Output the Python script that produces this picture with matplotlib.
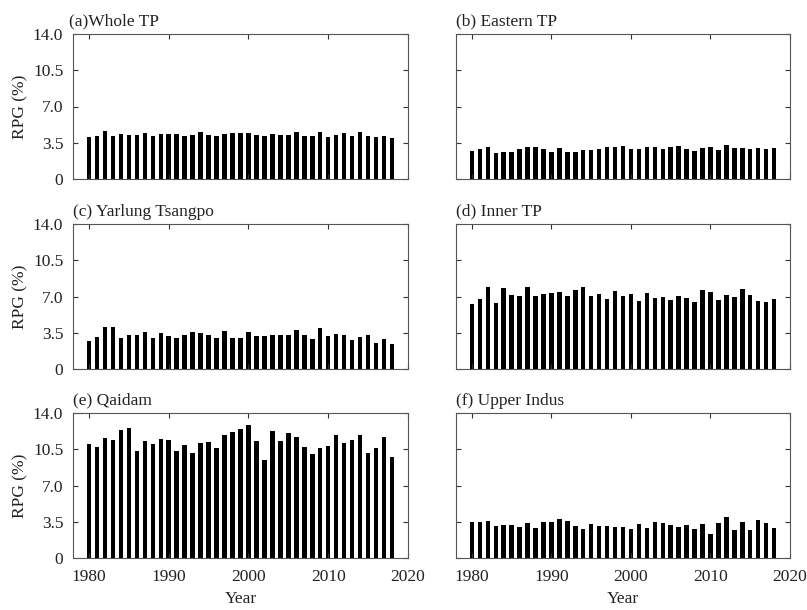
import matplotlib
matplotlib.use("Agg")
import matplotlib.pyplot as plt
import numpy as np

plt.rcParams["font.family"] = ["Liberation Serif", "DejaVu Serif"]
plt.rcParams["font.size"] = 12.5

years = np.arange(1980, 2019)

whole_tp = [4.05, 4.14, 4.60, 4.11, 4.37, 4.27, 4.24, 4.43, 4.20, 4.30,
            4.34, 4.37, 4.14, 4.27, 4.50, 4.24, 4.20, 4.34, 4.40, 4.40,
            4.43, 4.27, 4.20, 4.30, 4.27, 4.27, 4.50, 4.20, 4.14, 4.50,
            4.08, 4.27, 4.43, 4.20, 4.53, 4.14, 4.08, 4.14, 3.95]
eastern_tp = [2.72, 2.91, 3.10, 2.52, 2.56, 2.56, 2.88, 3.10, 3.10, 2.88,
              2.62, 3.00, 2.56, 2.59, 2.82, 2.78, 2.85, 3.10, 3.10, 3.20,
              2.85, 2.88, 3.10, 3.07, 2.91, 3.10, 3.20, 2.85, 2.72, 3.00,
              3.10, 2.82, 3.33, 2.98, 2.95, 2.88, 2.95, 2.91, 3.00]
yarlung = [2.75, 3.11, 4.05, 4.08, 3.04, 3.24, 3.24, 3.53, 2.98, 3.43,
           3.14, 3.01, 3.24, 3.59, 3.46, 3.33, 3.04, 3.69, 3.04, 3.04,
           3.59, 3.14, 3.14, 3.24, 3.24, 3.33, 3.79, 3.33, 2.91, 3.95,
           3.17, 3.37, 3.27, 2.82, 3.07, 3.24, 2.49, 2.91, 2.43]
inner_tp = [6.31, 6.73, 7.90, 6.34, 7.80, 7.12, 7.09, 7.93, 7.09, 7.25,
            7.38, 7.48, 7.02, 7.64, 7.96, 7.06, 7.28, 6.80, 7.54, 7.06,
            7.28, 6.60, 7.31, 6.83, 6.96, 6.70, 7.06, 6.86, 6.50, 7.64,
            7.48, 6.67, 7.15, 6.96, 7.70, 7.15, 6.54, 6.50, 6.73]
qaidam = [11.00, 10.74, 11.59, 11.42, 12.33, 12.52, 10.32, 11.26, 10.97, 11.49,
          11.39, 10.29, 10.87, 10.16, 11.13, 11.20, 10.61, 11.84, 12.20, 12.46,
          12.82, 11.33, 9.42, 12.23, 11.26, 12.07, 11.65, 10.74, 10.06, 10.58,
          10.78, 11.84, 11.13, 11.39, 11.84, 10.16, 10.61, 11.65, 9.77]
upper_indus = [3.50, 3.50, 3.59, 3.07, 3.20, 3.17, 2.98, 3.37, 2.94, 3.43,
               3.43, 3.75, 3.53, 3.07, 2.82, 3.24, 3.11, 3.11, 3.04, 3.04,
               2.82, 3.33, 2.88, 3.43, 3.40, 3.20, 2.98, 3.17, 2.78, 3.30,
               2.36, 3.40, 3.92, 2.75, 3.43, 2.75, 3.69, 3.37, 2.91]

series = [whole_tp, eastern_tp, yarlung, inner_tp, qaidam, upper_indus]
titles = ["(a)Whole TP", "(b) Eastern TP", "(c) Yarlung Tsangpo",
          "(d) Inner TP", "(e) Qaidam", "(f) Upper Indus"]
yticks = [0, 3.5, 7.0, 10.5, 14.0]
ytick_labels = ["0", "3.5", "7.0", "10.5", "14.0"]
xticks = [1980, 1990, 2000, 2010, 2020]

W, H = 807, 610
fig = plt.figure(figsize=(W / 100, H / 100), dpi=100)

col_x = [(73, 335), (456, 334)]
row_y = [(34, 179), (224, 369), (413, 558)]
axis_color = "#333333"

for i, (vals, title) in enumerate(zip(series, titles)):
    r, c = divmod(i, 2)
    x0, w = col_x[c]
    top, bottom = row_y[r]
    ax = fig.add_axes([x0 / W, 1 - bottom / H, w / W, (bottom - top) / H])
    ax.bar(years, vals, width=0.56, color="black")
    ax.set_xlim(1978, 2020)
    ax.set_ylim(0, 14)
    ax.set_xticks(xticks)
    ax.set_yticks(yticks)
    ax.tick_params(direction="in", top=True, right=True, length=3.5,
                   width=0.8, colors=axis_color, labelcolor="#222222",
                   labelsize=12.5)
    ax.tick_params(axis="y", pad=7)
    ax.tick_params(axis="x", pad=8)
    for s in ax.spines.values():
        s.set_color("#555555")
        s.set_linewidth(0.8)
    if c == 0:
        ax.set_yticklabels(ytick_labels)
        ax.set_ylabel("RPG (%)", color="#222222", labelpad=3)
    else:
        ax.set_yticklabels([])
    if r == 2:
        ax.set_xlabel("Year", color="#222222", labelpad=4)
    else:
        ax.set_xticklabels([])
    tx = -0.012 if i == 0 else 0.0
    ax.text(tx, 1.03, title, transform=ax.transAxes, ha="left", va="bottom",
            fontsize=12.5, color="#222222")

fig.savefig("out.png", dpi=100)
